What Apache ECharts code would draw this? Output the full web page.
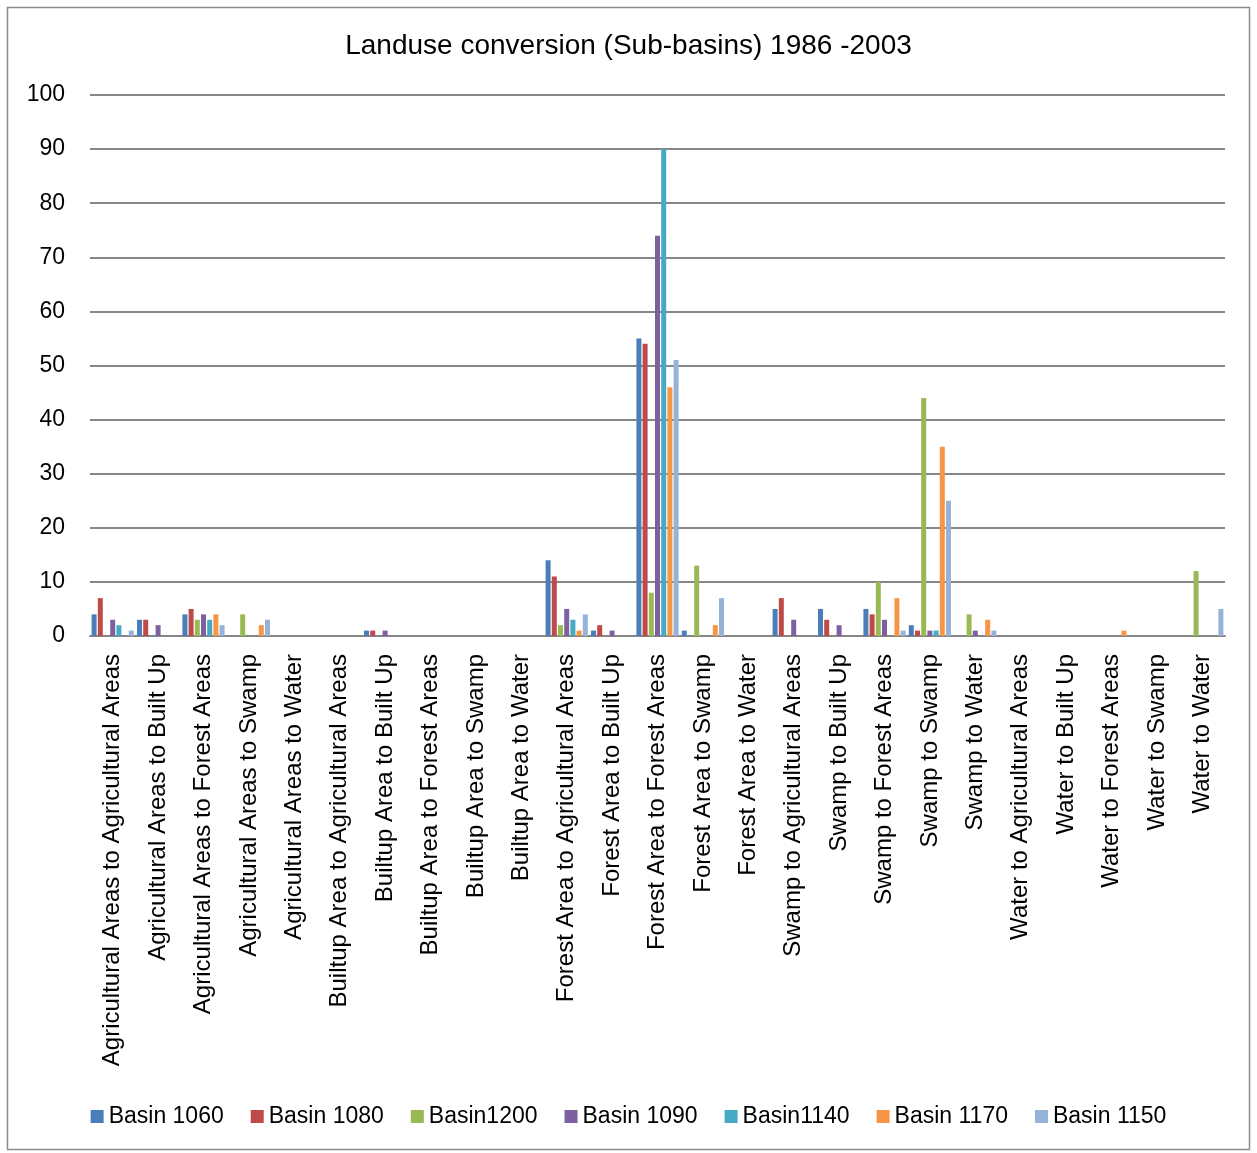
<!DOCTYPE html>
<html><head><meta charset="utf-8">
<script src="https://cdn.jsdelivr.net/npm/echarts@6/dist/echarts.min.js"></script>
<style>html,body{margin:0;padding:0;background:#fff}#c{width:1257px;height:1153px}</style>
</head><body><div id="c"></div>
<script>
const categories = [
 "Agricultural Areas to Agricultural Areas","Agricultural Areas to Built Up","Agricultural Areas to Forest Areas","Agricultural Areas to Swamp","Agricultural Areas to Water",
 "Builtup Area to Agricultural Areas","Builtup Area to Built Up","Builtup Area to Forest Areas","Builtup Area to Swamp","Builtup Area to Water",
 "Forest Area to Agricultural Areas","Forest Area to Built Up","Forest Area to Forest Areas","Forest Area to Swamp","Forest Area to Water",
 "Swamp to Agricultural Areas","Swamp to Built Up","Swamp to Forest Areas","Swamp to Swamp","Swamp to Water",
 "Water to Agricultural Areas","Water to Built Up","Water to Forest Areas","Water to Swamp","Water to Water"];
const seriesNames = ["Basin 1060","Basin 1080","Basin1200","Basin 1090","Basin1140","Basin 1170","Basin 1150"];
const b1060 = [4,3,4,0,0,0,1,0,0,0,14,1,55,1,0,5,5,5,2,0,0,0,0,0,0];
const b1080 = [7,3,5,0,0,0,1,0,0,0,11,2,54,0,0,7,3,4,1,0,0,0,0,0,0];
const b1200 = [0,0,3,4,0,0,0,0,0,0,2,0,8,13,0,0,0,10,44,4,0,0,0,0,12];
const b1090 = [3,2,4,0,0,0,1,0,0,0,5,1,74,0,0,3,2,3,1,1,0,0,0,0,0];
const b1140 = [2,0,3,0,0,0,0,0,0,0,3,0,90,0,0,0,0,0,1,0,0,0,0,0,0];
const b1170 = [0,0,4,2,0,0,0,0,0,0,1,0,46,2,0,0,0,7,35,3,0,0,1,0,0];
const b1150 = [1,0,2,3,0,0,0,0,0,0,4,0,51,7,0,0,0,1,25,1,0,0,0,0,5];
const yTicks = [0,10,20,30,40,50,60,70,80,90,100];

const seriesData = [b1060,b1080,b1200,b1090,b1140,b1170,b1150];
const colors = ["#4A7EBB","#BE4B48","#98B954","#7D60A0","#46AAC5","#F69546","#95B3D7"];
const FONT = '"Liberation Sans", Arial, sans-serif';

const chart = echarts.init(document.getElementById('c'), null, {renderer:'canvas'});
chart.setOption({
  animation:false,
  backgroundColor:'#fff',
  color: colors,
  title:{text:"Landuse conversion (Sub-basins) 1986 -2003", left:'center', top:27,
    textStyle:{fontFamily:FONT, fontSize:28, fontWeight:'normal', color:'#000'}},
  graphic:[{type:'rect', shape:{x:7.5,y:7.5,width:1242,height:1142}, style:{fill:null, stroke:'#8c8c8c', lineWidth:1.5}, silent:true}],
  legend:{bottom:20, left:'center', itemWidth:13, itemHeight:13, itemGap:27, icon:'rect',
    textStyle:{fontFamily:FONT, fontSize:23, color:'#000'}, data:seriesNames},
  grid:{left:90, right:32, top:95, bottom:517, containLabel:false},
  xAxis:{type:'category', data:categories,
    axisLine:{lineStyle:{color:'#868686', width:2}}, axisTick:{show:false},
    axisLabel:{rotate:90, interval:0, fontFamily:FONT, fontSize:24, color:'#000', margin:18}},
  yAxis:{type:'value', min:0, max:100, interval:10,
    axisLine:{show:false}, axisTick:{show:false},
    axisLabel:{fontFamily:FONT, fontSize:23, color:'#000', margin:25,
      formatter:v=> yTicks.includes(v)? String(v):''},
    splitLine:{lineStyle:{color:'#868686', width:2}}},
  series: seriesNames.map((n,i)=>({name:n, type:'bar', data:seriesData[i], barWidth:5, barGap:'24%', itemStyle:{color:colors[i]}}))
});
</script></body></html>
